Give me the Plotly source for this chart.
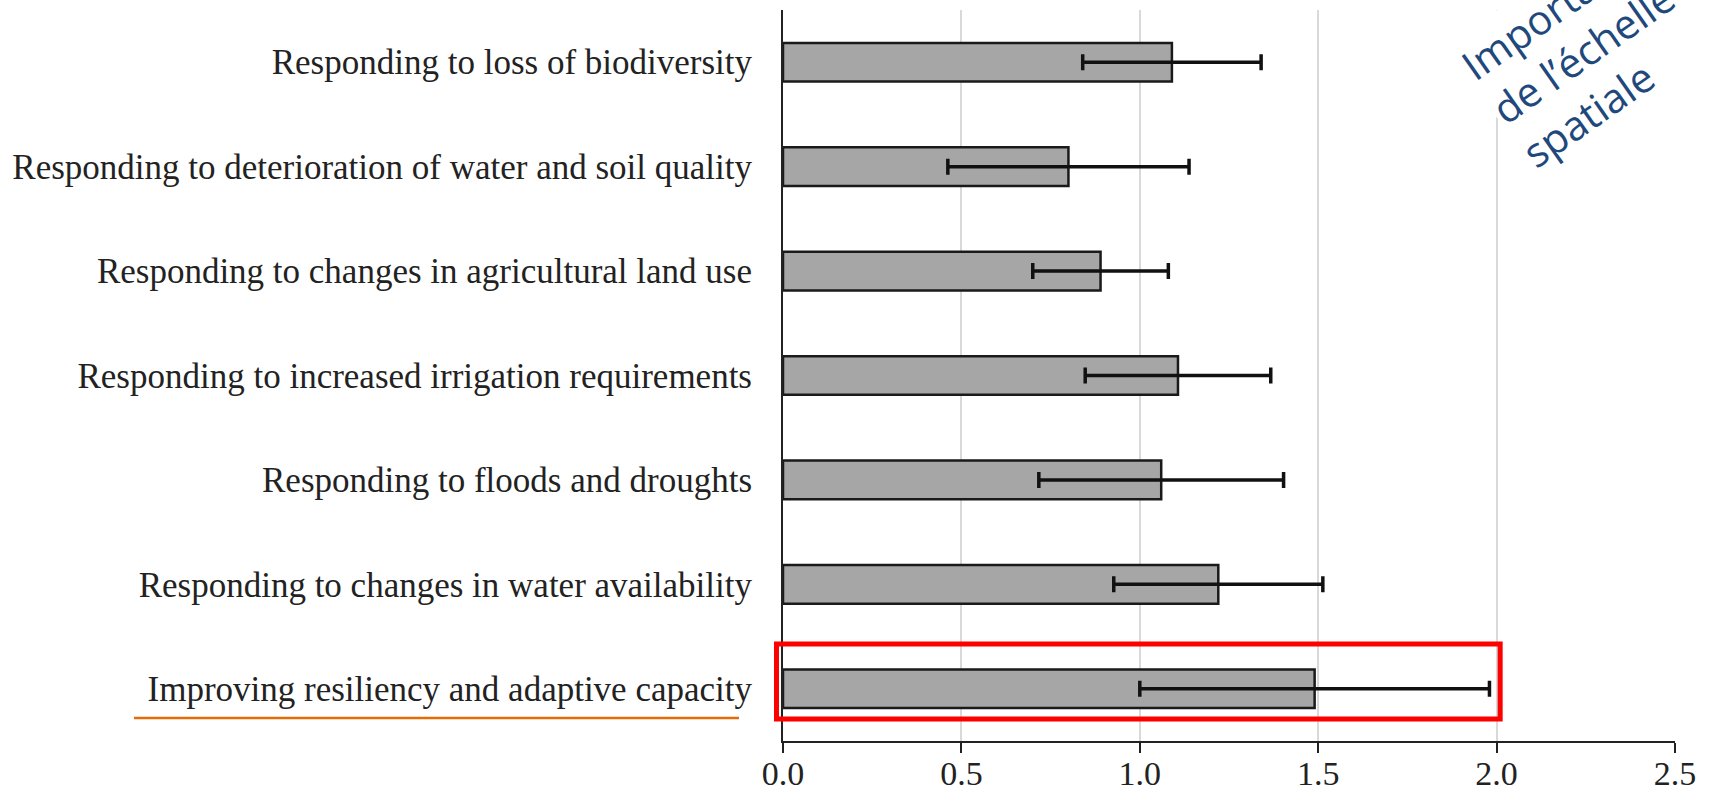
import plotly.graph_objects as go

# Categories listed top to bottom as they appear on the chart
categories = [
    "Responding to loss of biodiversity",
    "Responding to deterioration of water and soil quality",
    "Responding to changes in agricultural land use",
    "Responding to increased irrigation requirements",
    "Responding to floods and droughts",
    "Responding to changes in water availability",
    "Improving resiliency and adaptive capacity",
]
means = [1.09, 0.80, 0.89, 1.107, 1.06, 1.22, 1.49]
errors = [0.25, 0.338, 0.19, 0.26, 0.343, 0.293, 0.49]
x_ticks = [0.0, 0.5, 1.0, 1.5, 2.0, 2.5]
x_ticklabels = ["0.0", "0.5", "1.0", "1.5", "2.0", "2.5"]

# plotly stacks categorical y from the bottom, so feed them reversed
cats_bottom_up = categories[::-1]
means_bottom_up = means[::-1]
errors_bottom_up = errors[::-1]

serif = "Liberation Serif, Times New Roman, serif"

fig = go.Figure()
fig.add_trace(go.Bar(
    orientation="h",
    y=cats_bottom_up,
    x=means_bottom_up,
    marker=dict(color="#A6A6A6", line=dict(color="#1A1A1A", width=2.5)),
    error_x=dict(type="data", array=errors_bottom_up, visible=True,
                 color="#111111", thickness=3.5, width=8),
    showlegend=False,
))

fig.update_layout(
    width=1711, height=795,
    margin=dict(l=783, r=36, t=10, b=54),
    paper_bgcolor="white", plot_bgcolor="white",
    bargap=0.63,
    font=dict(family=serif, size=35, color="#222222"),
    xaxis=dict(
        range=[0, 2.5], automargin=False,
        tickvals=x_ticks, ticktext=x_ticklabels,
        showgrid=True, gridcolor="#D9D9D9", gridwidth=1.5,
        showline=True, linecolor="#222222", linewidth=2,
        ticks="outside", ticklen=10, tickwidth=2, tickcolor="#222222",
        ticklabelstandoff=-9,
        zeroline=False,
        tickfont=dict(family=serif, size=34, color="#222222"),
    ),
    yaxis=dict(
        type="category", automargin=False,
        categoryorder="array", categoryarray=cats_bottom_up,
        range=[-0.5, 6.5],
        showgrid=False,
        showline=True, linecolor="#222222", linewidth=2,
        ticks="", ticklabelstandoff=22,
        tickfont=dict(family=serif, size=35, color="#222222"),
    ),
)

# red highlight frame around the last category (x in paper units so the
# left edge may sit just outside the axis line)
fig.add_shape(type="rect", xref="paper", yref="y",
              x0=-0.0073, x1=0.804, y0=-0.29, y1=0.43,
              line=dict(color="#FF0000", width=5), layer="above")

# orange underline beneath the highlighted label
fig.add_shape(type="line", xref="paper", yref="paper",
              x0=-0.7276, x1=-0.0493, y0=0.0315, y1=0.0315,
              line=dict(color="#E36C09", width=2.5))

# rotated callout text, left-aligned lines on a white box
fig.add_annotation(
    xref="paper", yref="paper", x=0.9019, y=0.9453,
    xanchor="center", yanchor="middle", align="left",
    text="Importance<br>de l’échelle<br>spatiale",
    textangle=-35, showarrow=False,
    font=dict(family="Open Sans, sans-serif", size=41, color="#1F497D"),
    bgcolor="white", borderpad=2,
)

fig.write_html("out.html")
